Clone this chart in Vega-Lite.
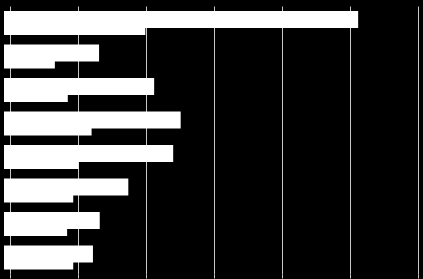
{
  "$schema": "https://vega.github.io/schema/vega-lite/v6.json",
  "width": 414,
  "height": 268,
  "autosize": {"type": "none"},
  "padding": {"left": 4, "top": 6, "right": 5, "bottom": 5},
  "background": "#000000",
  "config": {"view": {"stroke": null}},
  "data": {
    "values": [
      {"category": "Kategorie 1", "series": "A", "value": 5.12},
      {"category": "Kategorie 1", "series": "B", "value": 1.99},
      {"category": "Kategorie 2", "series": "A", "value": 1.31},
      {"category": "Kategorie 2", "series": "B", "value": 0.66},
      {"category": "Kategorie 3", "series": "A", "value": 2.12},
      {"category": "Kategorie 3", "series": "B", "value": 0.85},
      {"category": "Kategorie 4", "series": "A", "value": 2.51},
      {"category": "Kategorie 4", "series": "B", "value": 1.2},
      {"category": "Kategorie 5", "series": "A", "value": 2.4},
      {"category": "Kategorie 5", "series": "B", "value": 1.01},
      {"category": "Kategorie 6", "series": "A", "value": 1.74},
      {"category": "Kategorie 6", "series": "B", "value": 0.93},
      {"category": "Kategorie 7", "series": "A", "value": 1.32},
      {"category": "Kategorie 7", "series": "B", "value": 0.84},
      {"category": "Kategorie 8", "series": "A", "value": 1.22},
      {"category": "Kategorie 8", "series": "B", "value": 0.93}
    ]
  },
  "encoding": {
    "x": {
      "field": "value",
      "type": "quantitative",
      "scale": {"domain": [-0.088, 6], "nice": false, "zero": false},
      "axis": {
        "values": [0, 1, 2, 3, 4, 5, 6],
        "grid": true,
        "gridColor": "#c8c8c8",
        "gridWidth": 1,
        "labels": false,
        "domain": false,
        "ticks": true,
        "tickColor": "#c8c8c8",
        "tickSize": 4,
        "title": null
      }
    },
    "x2": {"datum": -0.088}
  },
  "layer": [
    {
      "transform": [{"filter": "datum.series == 'A'"}],
      "mark": {"type": "bar", "color": "#ffffff"},
      "encoding": {
        "y": {
          "field": "category",
          "type": "nominal",
          "sort": null,
          "scale": {"paddingInner": 0.4925, "paddingOuter": 0.24625, "align": 0.303},
          "axis": null
        }
      }
    },
    {
      "transform": [{"filter": "datum.series == 'B'"}],
      "mark": {"type": "bar", "color": "#ffffff"},
      "encoding": {
        "y": {
          "field": "category",
          "type": "nominal",
          "sort": null,
          "scale": {"paddingInner": 0.4925, "paddingOuter": 0.24625, "align": 0.727},
          "axis": null
        }
      }
    }
  ],
  "resolve": {"scale": {"y": "independent"}}
}
